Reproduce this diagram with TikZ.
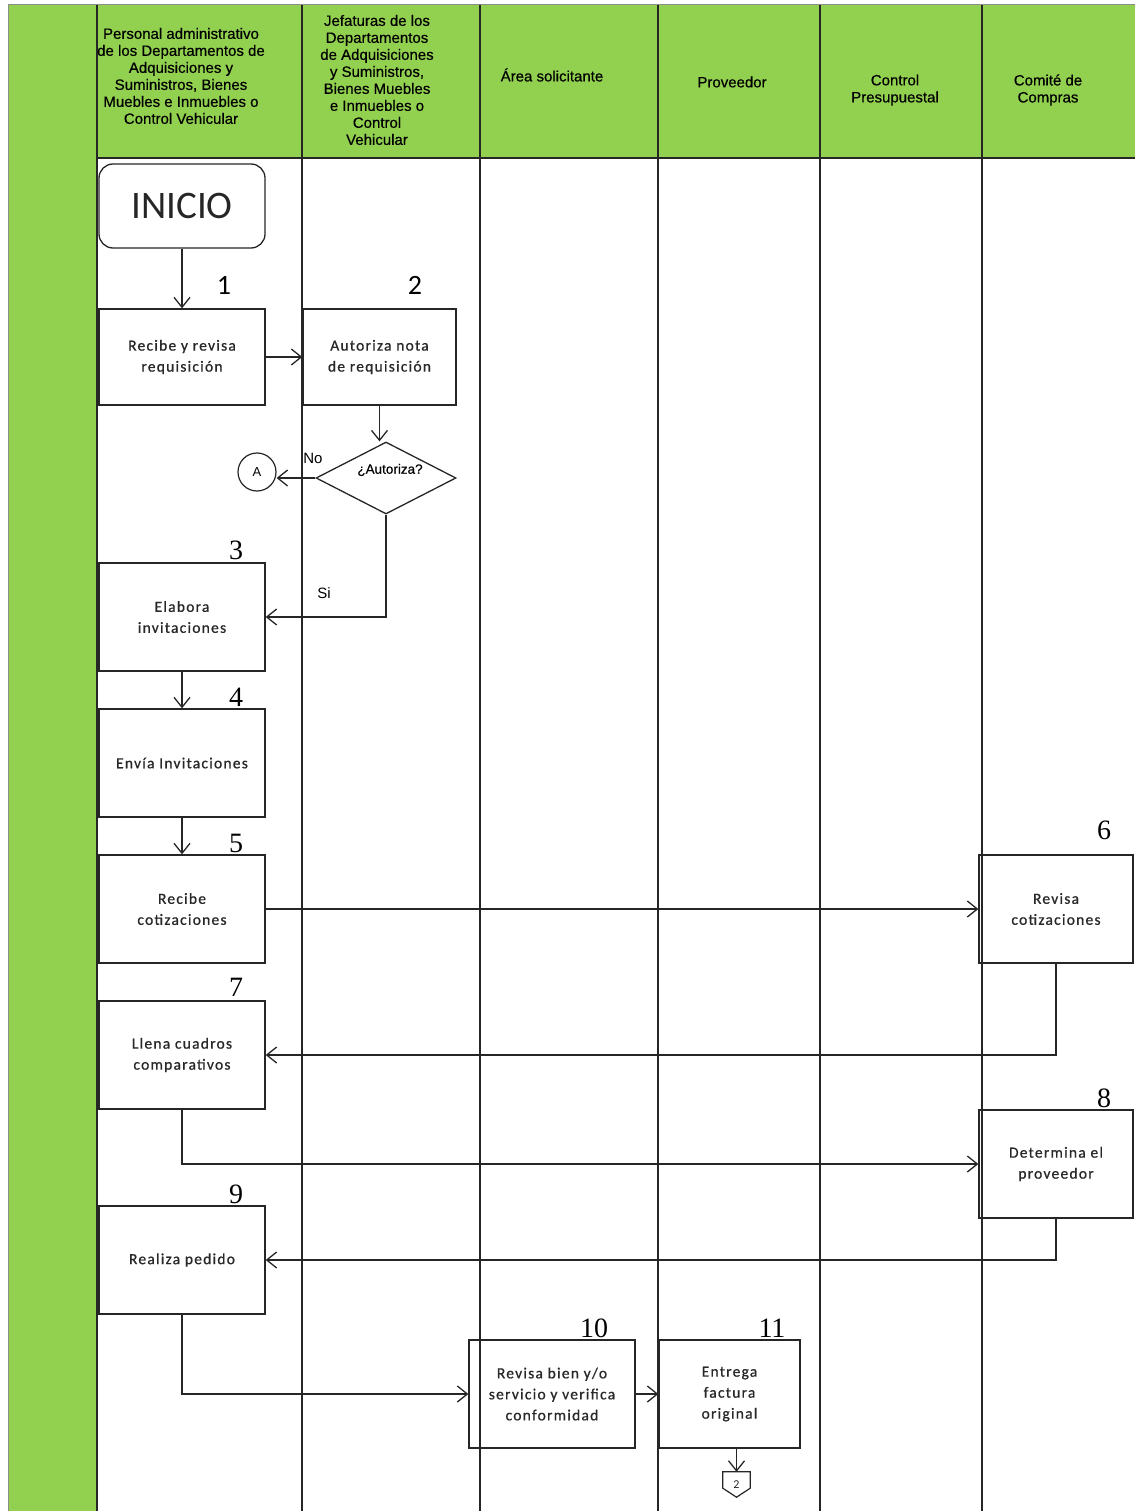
\documentclass[tikz,border=0pt]{standalone}
\usepackage{fontspec}
\setmainfont{Liberation Sans}
\newfontfamily\hdrfont[FakeBold=0.4]{Liberation Sans}
\newfontfamily\boxfont[LetterSpace=8,FakeBold=0.8]{Carlito}
\newfontfamily\calfont{Carlito}
\newfontfamily\numfont{Liberation Serif}
\usetikzlibrary{arrows.meta,shapes.geometric}
\definecolor{lanegreen}{RGB}{146,208,80}
\definecolor{boxtext}{RGB}{40,40,40}
\tikzset{
  stepbox/.style={draw=black!85,line width=1.3pt,align=center,inner sep=2pt,
    text=boxtext,font=\boxfont\fontsize{15.5}{21}\selectfont},
  wide/.style={minimum width=166pt,minimum height=108pt},
  hdr/.style={align=center,font=\hdrfont\fontsize{15}{17}\selectfont,inner sep=0pt},
  numlbl/.style={font=\numfont\fontsize{28}{28}\selectfont,inner sep=0pt},
  callbl/.style={font=\calfont\fontsize{28}{28}\selectfont,inner sep=0pt},
  flow/.style={draw=black!85,line width=1.3pt,-{Straight Barb[length=10pt,width=16pt,line width=1.3pt]}},
  lane/.style={draw=black!85,line width=1.8pt}
}
\begin{document}
\begin{tikzpicture}[x=1pt,y=-1pt]
\useasboundingbox (0,0) rectangle (1135,1511);
% header band and left column
\fill[lanegreen] (8,5) rectangle (1135,158);
\fill[lanegreen] (8,158) rectangle (97,1511);
\draw[black!45,line width=1pt] (8,1511) -- (8,5) -- (1135,5);
% lane separators
\foreach \xx in {97,302,480,658,820,982} \draw[lane] (\xx,5) -- (\xx,1511);
\draw[lane] (97,158) -- (1135,158);
% lane titles
\node[hdr] (h1) at (181,76) {Personal administrativo\\de los  Departamentos de\\Adquisiciones y\\Suministros, Bienes\\Muebles e  Inmuebles o\\Control Vehicular};
\node[hdr] (h2) at (377,80) {Jefaturas de los\\Departamentos\\de Adquisiciones\\y Suministros,\\Bienes Muebles\\e Inmuebles o\\Control\\Vehicular};
\node[hdr] (h3) at (552,75) {Área solicitante};
\node[hdr] (h4) at (732,82) {Proveedor};
\node[hdr] (h5) at (895,90) {Control\\Presupuestal};
\node[hdr] (h6) at (1048,90) {Comité de\\Compras};
% process steps
\node[draw=black!85,line width=1.3pt,rounded corners=14pt,minimum width=166pt,minimum height=84pt,
  font=\calfont\fontsize{39}{39}\selectfont,text=black!85] (ini) at (182,206) {INICIO};
\node[stepbox,minimum width=166pt,minimum height=96pt] (b1) at (182,357) {Recibe y revisa\\requisición};
\node[stepbox,minimum width=153pt,minimum height=96pt] (b2) at (379.5,357) {Autoriza nota\\de requisición};
\node[draw=black!85,line width=1.3pt,diamond,minimum width=140pt,minimum height=72pt,inner sep=0pt] (d) at (386,478) {};
\node[font=\hdrfont\fontsize{13.5}{13.5}\selectfont,inner sep=0pt] (dl) at (390,470) {¿Autoriza?};
\node[draw=black!85,line width=1.2pt,circle,minimum size=38pt,inner sep=0pt,font=\fontsize{13}{13}\selectfont] (A) at (257,472) {A};
\node[stepbox,wide] (b3) at (182,617) {Elabora\\invitaciones};
\node[stepbox,wide] (b4) at (182,763) {Envía Invitaciones};
\node[stepbox,wide] (b5) at (182,909) {Recibe\\cotizaciones};
\node[stepbox,minimum width=154pt,minimum height=108pt] (b6) at (1056,909) {Revisa\\cotizaciones};
\node[stepbox,wide] (b7) at (182,1055) {Llena cuadros\\comparativos};
\node[stepbox,minimum width=154pt,minimum height=108pt] (b8) at (1056,1164) {Determina el\\proveedor};
\node[stepbox,wide] (b9) at (182,1260) {Realiza pedido};
\node[stepbox,wide] (b10) at (552,1394) {Revisa bien y/o\\servicio y verifica\\conformidad};
\node[stepbox,minimum width=141pt,minimum height=108pt] (b11) at (729.5,1394) {Entrega\\factura\\original};
% off-page connector
\node[inner sep=0pt,minimum width=27pt,minimum height=25pt,font=\calfont\fontsize{12}{12}\selectfont,text=boxtext] (off) at (736.5,1484.5) {2};
\draw[black!85,line width=1.2pt] (off.north west) -- (off.north east) -- ([yshift=9pt]off.south east)
  -- (off.south) -- ([yshift=9pt]off.south west) -- cycle;
% step numbers
\node[callbl] (n1) at (224,285) {1};
\node[callbl] (n2) at (415,285) {2};
\node[numlbl] (n3) at (236,550) {3};
\node[numlbl] (n4) at (236,697) {4};
\node[numlbl] (n5) at (236,843) {5};
\node[numlbl] (n6) at (1104,830) {6};
\node[numlbl] (n7) at (236,987) {7};
\node[numlbl] (n8) at (1104,1098) {8};
\node[numlbl] (n9) at (236,1194) {9};
\node[numlbl] (n10) at (594,1328) {10};
\node[numlbl] (n11) at (772,1328) {11};
% connectors
\draw[flow] (ini.south) -- (b1.north);
\draw[flow] (b1.east) -- (b2.west);
\draw[flow] (b2.south) -- (b2.south |- d.north);
\draw[flow] (d.west) -- (d.west -| A.east);
\node[font=\fontsize{15}{15}\selectfont,inner sep=0pt] (no) at (313,458) {No};
\draw[flow] (d.south) -- (d.south |- b3.east) -- (b3.east);
\node[font=\fontsize{15}{15}\selectfont,inner sep=0pt] (si) at (324,593) {Si};
\draw[flow] (b3.south) -- (b4.north);
\draw[flow] (b4.south) -- (b5.north);
\draw[flow] (b5.east) -- (b6.west);
\draw[flow] (b6.south) -- (b6.south |- b7.east) -- (b7.east);
\draw[flow] (b7.south) |- (b8.west);
\draw[flow] (b8.south) -- (b8.south |- b9.east) -- (b9.east);
\draw[flow] (b9.south) |- (b10.west);
\draw[flow] (b10.east) -- (b11.west);
\draw[flow] (off.north |- b11.south) -- (off.north);
\end{tikzpicture}
\end{document}
